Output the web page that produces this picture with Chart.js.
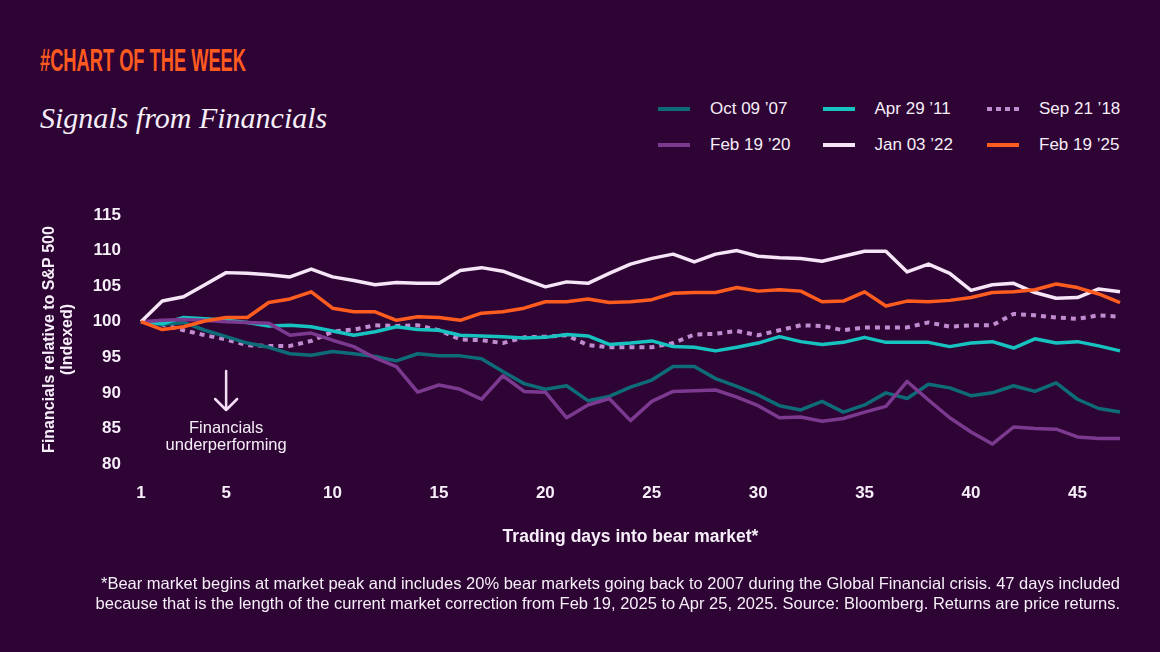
<!DOCTYPE html>
<html>
<head>
<meta charset="utf-8">
<script src="https://cdn.jsdelivr.net/npm/chart.js@4.4.1/dist/chart.umd.min.js"></script>
<style>
  html, body { margin: 0; padding: 0; background: #2d0433; }
  #wrap { position: relative; width: 1160px; height: 652px; overflow: hidden; background: #2d0433;
          font-family: "Liberation Sans", Arial, sans-serif; color: #f6eef8; }
  #kicker { position: absolute; left: 40px; top: 44px; font-family: "Liberation Sans Narrow", "Liberation Sans", sans-serif;
            font-weight: bold; font-size: 31px; line-height: 34px; color: #ff5a1f; white-space: nowrap; transform-origin: left top; }
  #title { position: absolute; left: 40px; top: 100px; font-family: "Liberation Serif", "DejaVu Serif", serif; font-style: italic;
           font-size: 30px; line-height: 36px; color: #f6eef8; white-space: nowrap; }
  .lg { position: absolute; height: 20px; display: flex; align-items: center; font-size: 17px; white-space: nowrap; color: #f6eef8; }
  .lg i { display: inline-block; width: 32px; height: 4px; margin-right: 20px; }
  #chart { position: absolute; left: 0; top: 0; }
  #foot { position: absolute; left: 20px; width: 1100px; top: 573px; text-align: right; font-size: 16.5px; line-height: 20px; color: #f6eef8; }
</style>
</head>
<body>
<div id="wrap">
  <div id="kicker">#CHART OF THE WEEK</div>
  <div id="title">Signals from Financials</div>
  <div id="legend"></div>
  <canvas id="chart" width="1160" height="652"></canvas>
  <div id="foot">*Bear market begins at market peak and includes 20% bear markets going back to 2007 during the Global Financial crisis. 47 days included<br>because that is the length of the current market correction from Feb 19, 2025 to Apr 25, 2025. Source: Bloomberg. Returns are price returns.</div>
</div>
<script>
const days = [1, 2, 3, 4, 5, 6, 7, 8, 9, 10, 11, 12, 13, 14, 15, 16, 17, 18, 19, 20, 21, 22, 23, 24,
  25, 26, 27, 28, 29, 30, 31, 32, 33, 34, 35, 36, 37, 38, 39, 40, 41, 42, 43, 44, 45, 46, 47];
const xTickLabels = [1, 5, 10, 15, 20, 25, 30, 35, 40, 45];
const yTicks = [80, 85, 90, 95, 100, 105, 110, 115];

const oct07 = [100, 99.6, 99.9, 98.8, 97.9, 97.0, 96.4, 95.5, 95.3, 95.8, 95.5, 95.1, 94.5, 95.5, 95.2, 95.2,
  94.8, 93.0, 91.3, 90.5, 91.0, 88.9, 89.5, 90.8, 91.8, 93.7, 93.7, 92.0, 90.9, 89.7, 88.2, 87.6,
  88.8, 87.3, 88.3, 90.0, 89.2, 91.2, 90.7, 89.6, 90.0, 91.0, 90.2, 91.4, 89.1, 87.8, 87.3];
const apr11 = [100, 99.7, 100.6, 100.4, 100.2, 99.9, 99.4, 99.5, 99.3, 98.7, 98.1, 98.6, 99.3, 98.9, 98.8, 98.1,
  98.0, 97.9, 97.7, 97.8, 98.2, 98.0, 96.8, 97.0, 97.3, 96.5, 96.4, 95.9, 96.4, 97.0, 97.9, 97.2,
  96.8, 97.1, 97.8, 97.1, 97.1, 97.1, 96.5, 97.0, 97.2, 96.3, 97.6, 97.0, 97.2, 96.6, 95.9];
const sep18 = [100, 99.6, 98.8, 98.1, 97.5, 96.7, 96.6, 96.6, 97.3, 98.6, 98.9, 99.5, 99.4, 99.5, 98.8, 97.5,
  97.4, 97.0, 97.8, 97.9, 98.1, 96.7, 96.4, 96.4, 96.4, 97.0, 98.2, 98.3, 98.7, 98.1, 98.8, 99.5,
  99.4, 98.8, 99.2, 99.2, 99.2, 99.9, 99.3, 99.5, 99.5, 101.1, 100.9, 100.6, 100.4, 100.9, 100.7];
const feb20 = [100, 100.2, 100.3, 100.2, 100.0, 99.9, 99.8, 98.1, 98.4, 97.4, 96.5, 94.9, 93.7, 90.1, 91.1, 90.5,
  89.1, 92.4, 90.2, 90.1, 86.5, 88.3, 89.2, 86.1, 88.8, 90.2, 90.3, 90.4, 89.4, 88.2, 86.5, 86.6,
  86.0, 86.4, 87.3, 88.1, 91.6, 89.0, 86.5, 84.5, 82.8, 85.2, 85.0, 84.9, 83.8, 83.6, 83.6];
const jan22 = [100, 102.9, 103.5, 105.2, 106.9, 106.8, 106.6, 106.3, 107.4, 106.3, 105.8, 105.2, 105.5, 105.4, 105.4, 107.2,
  107.6, 107.1, 106.0, 104.9, 105.6, 105.4, 106.8, 108.1, 108.9, 109.5, 108.4, 109.5, 110.0, 109.2, 109.0, 108.9,
  108.5, 109.2, 109.9, 109.9, 107.0, 108.1, 106.8, 104.4, 105.2, 105.4, 104.1, 103.3, 103.4, 104.6, 104.2];
const feb25 = [100, 98.9, 99.3, 100.1, 100.6, 100.6, 102.7, 103.2, 104.2, 101.9, 101.4, 101.4, 100.2, 100.7, 100.6, 100.2,
  101.2, 101.4, 101.9, 102.8, 102.8, 103.2, 102.7, 102.8, 103.1, 104.0, 104.1, 104.1, 104.8, 104.3, 104.5, 104.3,
  102.8, 102.9, 104.2, 102.2, 102.9, 102.8, 103.0, 103.4, 104.1, 104.2, 104.5, 105.3, 104.8, 103.9, 102.7];

const seriesNames = ["Oct 09 \u201907", "Apr 29 \u201911", "Sep 21 \u201918", "Feb 19 \u201920", "Jan 03 \u201922", "Feb 19 \u201925"];
const seriesData = [oct07, apr11, sep18, feb20, jan22, feb25];
const seriesColors = ["#0e6b78", "#17c3c0", "#c08ccf", "#7c3990", "#f6e4f7", "#ff5c1f"];
const seriesDashed = [false, false, true, false, false, false];
const drawOrder = [5, 4, 6, 3, 2, 1];

const noteDay = 5;
const noteLines = ["Financials", "underperforming"];

const TXT = "#f6eef8";

// legend in html, 3 columns x 2 rows
const legend = document.getElementById("legend");
seriesNames.forEach((name, i) => {
  const col = i % 3, row = Math.floor(i / 3);
  const el = document.createElement("div");
  el.className = "lg";
  el.style.left = (658 + col * 164.5) + "px";
  el.style.top = (99 + row * 36) + "px";
  const sw = document.createElement("i");
  sw.style.background = seriesDashed[i]
    ? `repeating-linear-gradient(90deg, ${seriesColors[i]} 0 5px, transparent 5px 9px)`
    : seriesColors[i];
  el.appendChild(sw);
  el.appendChild(document.createTextNode(name));
  legend.appendChild(el);
});

// squeeze kicker to the condensed width
const kicker = document.getElementById("kicker");
kicker.style.transform = `scaleX(${206 / kicker.getBoundingClientRect().width})`;

const notePlugin = {
  id: "note",
  afterDatasetsDraw(chart) {
    const { ctx, scales: { x } } = chart;
    const px = x.getPixelForValue(days.indexOf(noteDay));
    ctx.save();
    ctx.strokeStyle = "#f3def6";
    ctx.lineWidth = 2.5;
    ctx.lineCap = "round";
    ctx.lineJoin = "round";
    ctx.beginPath();
    ctx.moveTo(px, 371);
    ctx.lineTo(px, 410);
    ctx.moveTo(px - 11, 399);
    ctx.lineTo(px, 410);
    ctx.lineTo(px + 11, 399);
    ctx.stroke();
    ctx.fillStyle = TXT;
    ctx.font = "16.5px 'Liberation Sans', Arial, sans-serif";
    ctx.textAlign = "center";
    ctx.textBaseline = "middle";
    noteLines.forEach((t, i) => ctx.fillText(t, px, 428 + i * 17));
    ctx.restore();
  },
};

new Chart(document.getElementById("chart"), {
  type: "line",
  data: {
    labels: days,
    datasets: seriesData.map((data, i) => ({
      label: seriesNames[i],
      data,
      borderColor: seriesColors[i],
      backgroundColor: seriesColors[i],
      borderWidth: seriesDashed[i] ? 4 : 3.5,
      borderDash: seriesDashed[i] ? [5, 5] : [],
      borderCapStyle: "butt",
      borderJoinStyle: "round",
      pointRadius: 0,
      tension: 0,
      order: drawOrder[i],
    })),
  },
  options: {
    responsive: false,
    animation: false,
    layout: { padding: { left: 0, top: 215, right: 40, bottom: 100 } },
    plugins: { legend: { display: false }, tooltip: { enabled: false } },
    scales: {
      x: {
        type: "category",
        offset: false,
        grid: { display: false, drawTicks: false },
        border: { display: false },
        afterFit: (s) => { s.height = 88; },
        ticks: {
          autoSkip: false,
          maxRotation: 0,
          padding: 19,
          color: TXT,
          font: { family: "'Liberation Sans', Arial, sans-serif", size: 17, weight: "bold" },
          callback: function (value) {
            const lbl = this.getLabelForValue(value);
            return xTickLabels.includes(Number(lbl)) ? String(lbl) : "";
          },
        },
        title: {
          display: true,
          text: "Trading days into bear market*",
          color: TXT,
          font: { family: "'Liberation Sans', Arial, sans-serif", size: 17.5, weight: "bold" },
        },
      },
      y: {
        min: 80,
        max: 115,
        grid: { display: false, drawTicks: false },
        border: { display: false },
        afterFit: (s) => { s.width = 141; },
        afterBuildTicks: (s) => { s.ticks = yTicks.map((v) => ({ value: v })); },
        ticks: {
          padding: 20,
          color: TXT,
          font: { family: "'Liberation Sans', Arial, sans-serif", size: 17, weight: "bold" },
        },
        title: {
          display: true,
          text: ["Financials relative to S&P 500", "(Indexed)"],
          color: TXT,
          padding: { top: 40 },
          font: { family: "'Liberation Sans', Arial, sans-serif", size: 16, weight: "bold", lineHeight: 1.15 },
        },
      },
    },
  },
  plugins: [notePlugin],
});
</script>
</body>
</html>
